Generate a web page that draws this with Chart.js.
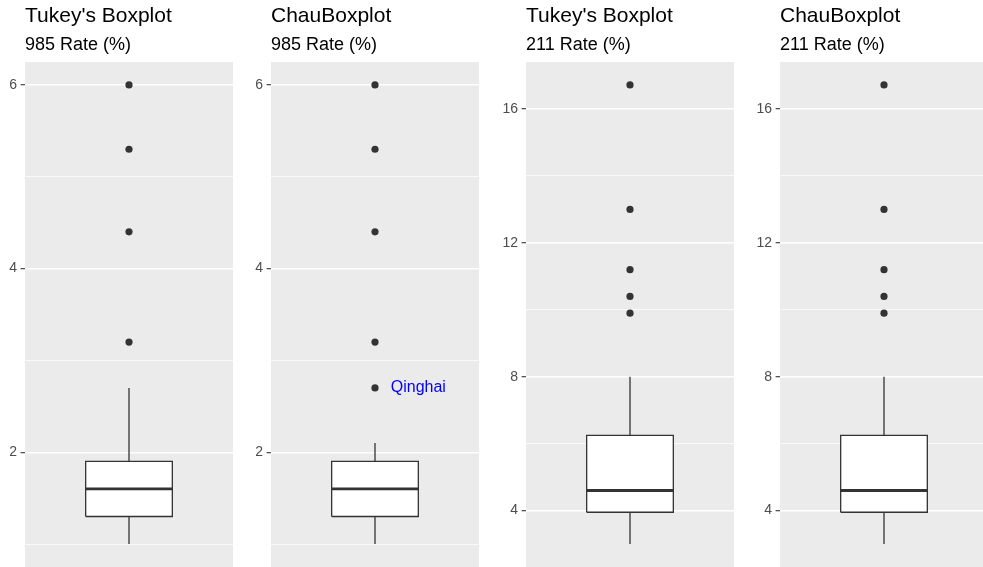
<!DOCTYPE html>
<html>
<head>
<meta charset="utf-8">
<script src="https://cdn.jsdelivr.net/npm/chart.js@4"></script>
<style>
  html, body { margin: 0; padding: 0; background: #ffffff; overflow: hidden; }
  #wrap { position: relative; width: 983px; height: 567px; overflow: hidden; background: #fff; }
  canvas { position: absolute; top: 0; }
</style>
</head>
<body>
<div id="wrap">
  <canvas id="c1" width="238" height="567" style="left:0px"></canvas>
  <canvas id="c2" width="238" height="567" style="left:246px"></canvas>
  <canvas id="c3" width="253" height="567" style="left:486px"></canvas>
  <canvas id="c4" width="253" height="567" style="left:740px"></canvas>
</div>
<script>
// ---------------- data ----------------
const panelTitles    = ["Tukey's Boxplot", "ChauBoxplot", "Tukey's Boxplot", "ChauBoxplot"];
const panelSubtitles = ["985 Rate (%)", "985 Rate (%)", "211 Rate (%)", "211 Rate (%)"];

// box stats: [lower whisker, Q1, median, Q3, upper whisker]
const tukey985Box      = [1.0, 1.3, 1.6, 1.9, 2.7];
const tukey985Outliers = [3.2, 4.4, 5.3, 6.0];
const chau985Box       = [1.0, 1.3, 1.6, 1.9, 2.1];
const chau985Outliers  = [2.7, 3.2, 4.4, 5.3, 6.0];
const chau985LabelNames  = ["Qinghai"];
const chau985LabelValues = [2.7];

const tukey211Box      = [3.0, 3.95, 4.6, 6.25, 8.0];
const tukey211Outliers = [9.9, 10.4, 11.2, 13.0, 16.72];
const chau211Box       = [3.0, 3.95, 4.6, 6.25, 8.0];
const chau211Outliers  = [9.9, 10.4, 11.2, 13.0, 16.72];

const majorTicks985 = [2, 4, 6];
const minorTicks985 = [1, 3, 5];
const majorTicks211 = [4, 8, 12, 16];
const minorTicks211 = [6, 10, 14];

const yRange985 = [0.75, 6.25];
const yRange211 = [2.314, 17.406];

// ---------------- styling ----------------
const FONT = "'Liberation Sans', Arial, Helvetica, sans-serif";
const LINE = '#333333';
const PANEL_BG = '#EBEBEB';

const panelBg = {
  id: 'panelBg',
  beforeDraw(chart) {
    const a = chart.chartArea, ctx = chart.ctx;
    ctx.save();
    ctx.fillStyle = PANEL_BG;
    ctx.fillRect(a.left, a.top, a.right - a.left, a.bottom - a.top);
    ctx.restore();
  }
};

// the y axis is laid out with zero width (so the titles line up with the panel);
// widen its label clip box into the left padding so tick labels stay visible
const axisRoom = {
  id: 'axisRoom',
  afterLayout(chart, args, opts) {
    const y = chart.scales.y;
    y.left = y.right - (opts.room || 0);
  }
};

const pointLabels = {
  id: 'pointLabels',
  afterDatasetsDraw(chart, args, opts) {
    if (!opts || !opts.names || !opts.names.length) return;
    const ctx = chart.ctx, xs = chart.scales.x, ys = chart.scales.y;
    ctx.save();
    ctx.fillStyle = opts.color;
    ctx.font = opts.fontSize + 'px ' + FONT;
    ctx.textAlign = 'center';
    ctx.textBaseline = 'middle';
    opts.names.forEach((n, i) => {
      ctx.fillText(n, xs.getPixelForValue(opts.xValue), ys.getPixelForValue(opts.values[i]));
    });
    ctx.restore();
  }
};

function makePanel(id, title, subtitle, box, outliers, yRange, majors, minors, padLeft, labelNames, labelValues) {
  const [lo, q1, med, q3, hi] = box;
  const allTicks = minors.concat(majors).sort((a, b) => a - b);
  const isMajor = v => majors.indexOf(v) !== -1;
  const base = { pointRadius: 0, pointHoverRadius: 0, borderColor: LINE, showLine: true, tension: 0, fill: false };
  new Chart(document.getElementById(id), {
    type: 'line',
    data: {
      datasets: [
        Object.assign({}, base, { label: 'outliers', showLine: false, data: outliers.map(v => ({ x: 1, y: v })),
          pointRadius: 3.6, pointBackgroundColor: LINE, pointBorderWidth: 0, order: 0 }),
        Object.assign({}, base, { label: 'median', data: [{ x: 0.75, y: med }, { x: 1.25, y: med }], borderWidth: 2.8, order: 1 }),
        Object.assign({}, base, { label: 'box', data: [{ x: 0.75, y: q1 }, { x: 1.25, y: q1 }, { x: 1.25, y: q3 }, { x: 0.75, y: q3 }, { x: 0.75, y: q1 }],
          borderWidth: 1.3, borderJoinStyle: 'miter', order: 2 }),
        Object.assign({}, base, { label: 'upper whisker', data: [{ x: 1, y: q3 }, { x: 1, y: hi }], borderWidth: 1.3, order: 3 }),
        Object.assign({}, base, { label: 'lower whisker', data: [{ x: 1, y: lo }, { x: 1, y: q1 }], borderWidth: 1.3, order: 3 }),
        Object.assign({}, base, { label: 'box fill', data: [{ x: 0.75, y: q3 }, { x: 1.25, y: q3 }], borderWidth: 0,
          borderColor: 'rgba(0,0,0,0)', fill: { value: q1 }, backgroundColor: '#FFFFFF', order: 4 })
      ]
    },
    options: {
      responsive: false,
      devicePixelRatio: 1,
      animation: false,
      events: [],
      layout: { autoPadding: false, padding: { left: padLeft, right: 5, top: 0, bottom: 0 } },
      scales: {
        x: { type: 'linear', min: 0.4, max: 1.6, display: false },
        y: {
          type: 'linear', min: yRange[0], max: yRange[1],
          afterBuildTicks: s => { s.ticks = allTicks.map(v => ({ value: v })); },
          afterFit: s => { s.width = 0; s.paddingTop = 0; s.paddingBottom = 0; },
          border: { display: false },
          grid: {
            color: '#FFFFFF',
            lineWidth: c => (c.tick && isMajor(c.tick.value)) ? 1.4 : 0.7,
            drawTicks: true,
            tickLength: 4.4,
            tickWidth: 1.1,
            tickColor: c => (c.tick && isMajor(c.tick.value)) ? LINE : 'rgba(0,0,0,0)'
          },
          ticks: {
            autoSkip: false,
            padding: 3.5,
            color: '#4D4D4D',
            font: { family: FONT, size: 14 },
            callback: v => isMajor(v) ? String(v) : ''
          }
        }
      },
      plugins: {
        legend: { display: false },
        tooltip: { enabled: false },
        title: { display: true, text: title, align: 'start', color: '#000000',
          font: { family: FONT, size: 21, weight: 'normal' }, padding: { top: 4, bottom: 5.2 } },
        subtitle: { display: true, text: subtitle, align: 'start', color: '#000000',
          font: { family: FONT, size: 18, weight: 'normal' }, padding: { top: 0, bottom: 6 } },
        axisRoom: { room: padLeft },
        pointLabels: { names: labelNames || [], values: labelValues || [], xValue: 1.25, color: '#0000FF', fontSize: 16 }
      }
    },
    plugins: [panelBg, axisRoom, pointLabels]
  });
}

makePanel('c1', panelTitles[0], panelSubtitles[0], tukey985Box, tukey985Outliers, yRange985, majorTicks985, minorTicks985, 25);
makePanel('c2', panelTitles[1], panelSubtitles[1], chau985Box, chau985Outliers, yRange985, majorTicks985, minorTicks985, 25, chau985LabelNames, chau985LabelValues);
makePanel('c3', panelTitles[2], panelSubtitles[2], tukey211Box, tukey211Outliers, yRange211, majorTicks211, minorTicks211, 40);
makePanel('c4', panelTitles[3], panelSubtitles[3], chau211Box, chau211Outliers, yRange211, majorTicks211, minorTicks211, 40);
</script>
</body>
</html>
